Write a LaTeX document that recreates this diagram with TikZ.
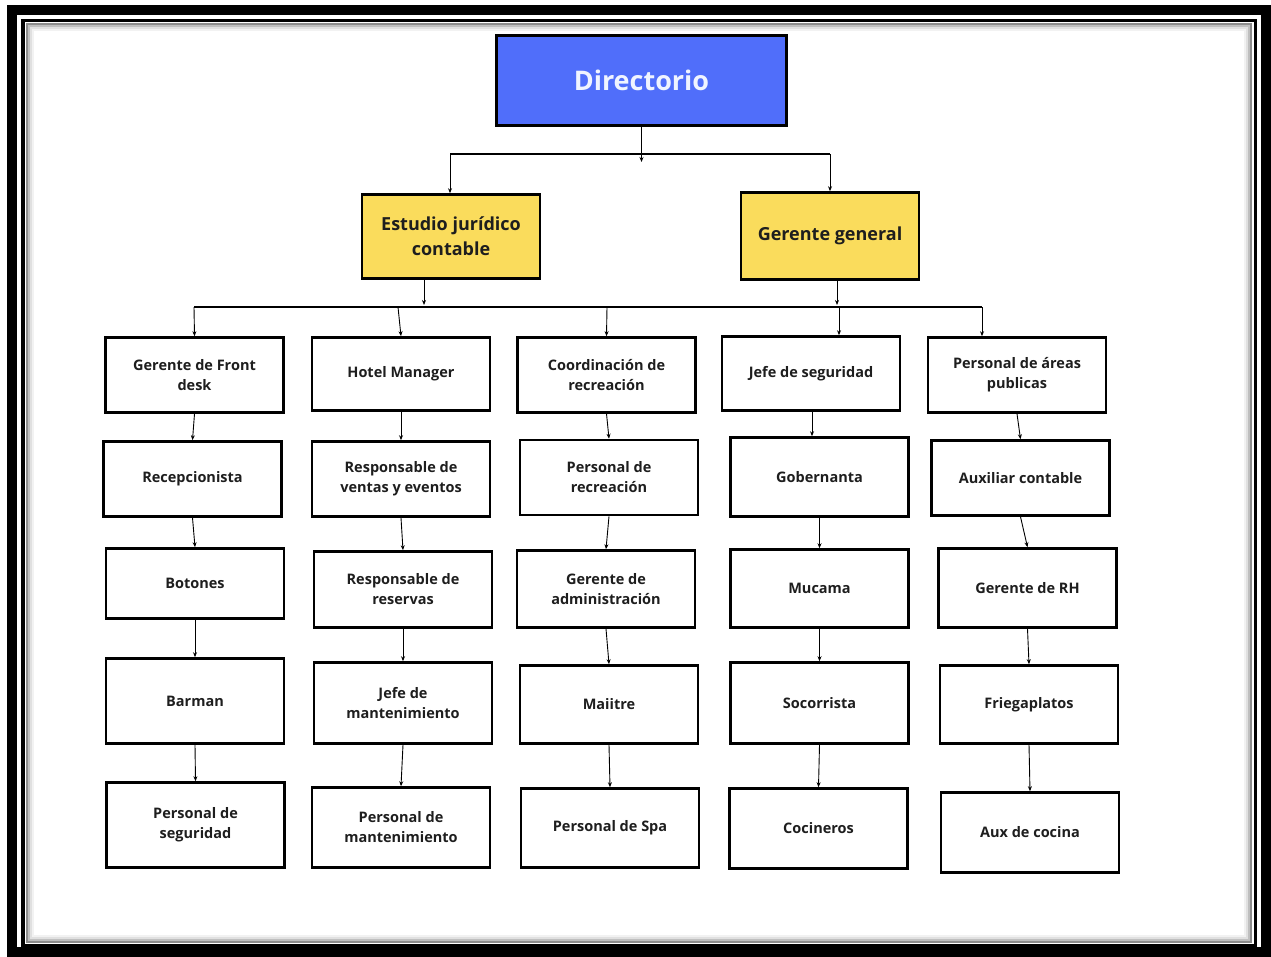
\documentclass[tikz,border=0pt]{standalone}
\usepackage{fontspec}
\setmainfont{Open Sans}
\usetikzlibrary{arrows.meta}
\definecolor{azuldir}{RGB}{80,110,250}
\definecolor{amarillo}{RGB}{250,220,92}
\definecolor{letra}{RGB}{30,30,30}
\tikzset{
    cargo/.style={draw, line width=2.6pt, fill=white, minimum width=178pt,
        minimum height=75pt, align=center, text=letra, inner sep=0pt,
        font=\fontsize{14.5}{20}\selectfont\bfseries},
    jefe/.style={cargo, fill=amarillo, font=\fontsize{18}{25}\selectfont\bfseries},
    flecha/.style={-{Stealth[length=5pt, width=4pt]}, line width=0.9pt}
}

\begin{document}
\begin{tikzpicture}[x=1pt, y=-1pt]
            \useasboundingbox (0,0) rectangle (1271,956);
            % marco
            \fill [white] (0,0) rectangle (1271,956);
            \draw [line width=10pt] (12,10) rectangle (1266,951.5);
            \draw [black!45, line width=2pt] (27,24) rectangle (1251,942);
            \draw [black!25, line width=2pt] (29,26) rectangle (1249,940);
            \draw [black!12, line width=2pt] (31,28) rectangle (1247,938);
            \draw [black!5, line width=2pt] (33,30) rectangle (1245,936);
            \draw [line width=3.5pt] (23,20.5) rectangle (1255.5,946);
            % cabeza
            \node [cargo, fill=azuldir, minimum width=290pt, minimum height=90pt,
                text={rgb,255:red,240;green,244;blue,255},
                font=\fontsize{27}{32}\selectfont\bfseries] (dir) at (641.5,80.5) {Directorio};
            \node [jefe, minimum height=84pt] (juridico) at (451,236.5) {Estudio jurídico\\contable};
            \node [jefe, minimum height=87pt] (general) at (830,236) {Gerente general};
            % primera fila
            \node [cargo] (frontdesk) at (194.5,375) {Gerente de Front\\desk};
            \node [cargo, minimum height=73pt] (hotel) at (401,374) {Hotel Manager};
            \node [cargo] (coordrec) at (606.5,375) {Coordinación de\\recreación};
            \node [cargo, minimum height=74pt] (jefeseg) at (811,373.5) {Jefe de seguridad};
            \node [cargo] (areas) at (1017,375) {Personal de áreas\\publicas};
            % segunda fila
            \node [cargo] (recep) at (192.5,479) {Recepcionista};
            \node [cargo] (ventas) at (401,479) {Responsable de\\ventas y eventos};
            \node [cargo] (persrec) at (609,477.5) {Personal de\\recreación};
            \node [cargo, minimum height=79pt] (gober) at (819.5,477) {Gobernanta};
            \node [cargo] (auxcont) at (1020.5,478) {Auxiliar contable};
            % tercera fila
            \node [cargo, minimum height=70pt] (botones) at (195,583.5) {Botones};
            \node [cargo, minimum height=76pt] (reservas) at (403,589.5) {Responsable de\\reservas};
            \node [cargo, minimum height=77pt] (admin) at (606,589) {Gerente de\\administración};
            \node [cargo, minimum height=78pt] (mucama) at (819.5,588.5) {Mucama};
            \node [cargo, minimum height=79pt] (rh) at (1027.5,588) {Gerente de RH};
            % cuarta fila
            \node [cargo, minimum height=85pt] (barman) at (195,701) {Barman};
            \node [cargo, minimum height=81pt] (jefemant) at (403,703) {Jefe de\\mantenimiento};
            \node [cargo, minimum height=78pt] (maitre) at (609,704.5) {Maiitre};
            \node [cargo, minimum height=81pt] (socorr) at (819.5,703) {Socorrista};
            \node [cargo, minimum height=78pt] (friega) at (1029,704.5) {Friegaplatos};
            % quinta fila
            \node [cargo, minimum height=85pt] (persseg) at (195.5,825) {Personal de\\seguridad};
            \node [cargo, minimum height=80pt] (persmant) at (401,827.5) {Personal de\\mantenimiento};
            \node [cargo, minimum height=79pt] (spa) at (610,828) {Personal de Spa};
            \node [cargo, minimum height=80pt] (cocin) at (818.5,828.5) {Cocineros};
            \node [cargo, minimum height=80pt] (auxcoc) at (1030,832.5) {Aux de cocina};
            % conectores de arriba
            \coordinate (b1) at (641.5,162);
            \draw [flecha] (dir.south) -- (b1);
            \draw [line width=1.2pt] (450,154) -- (830,154);
            \draw [flecha] (450,154) -- (450,154 |- juridico.north);
            \draw [flecha] (830,154) -- (830,154 |- general.north);
            \coordinate (b2) at (424,305);
            \coordinate (b3) at (837,305);
            \draw [flecha] (424,0 |- juridico.south) -- (b2);
            \draw [flecha] (837,0 |- general.south) -- (b3);
            \draw [line width=1.2pt] (194,307) -- (982,307);
            \draw [flecha] (194,307) -- (frontdesk.north);
            \draw [flecha] (398,307) -- (hotel.north);
            \draw [flecha] (607,307) -- (coordrec.north);
            \draw [flecha] (839,307) -- (839,307 |- jefeseg.north);
            \draw [flecha] (982,307) -- (982,307 |- areas.north);
            \draw [flecha] (812,0 |- jefeseg.south) -- (812,0 |- gober.north);
            % columnas
            \foreach \a/\b in {frontdesk/recep, recep/botones, botones/barman, barman/persseg,
                hotel/ventas, ventas/reservas, reservas/jefemant, jefemant/persmant,
                coordrec/persrec, persrec/admin, admin/maitre, maitre/spa,
                gober/mucama, mucama/socorr, socorr/cocin,
                areas/auxcont, auxcont/rh, rh/friega, friega/auxcoc}
                \draw [flecha] (\a.south) -- (\b.north);
\end{tikzpicture}
\end{document}
